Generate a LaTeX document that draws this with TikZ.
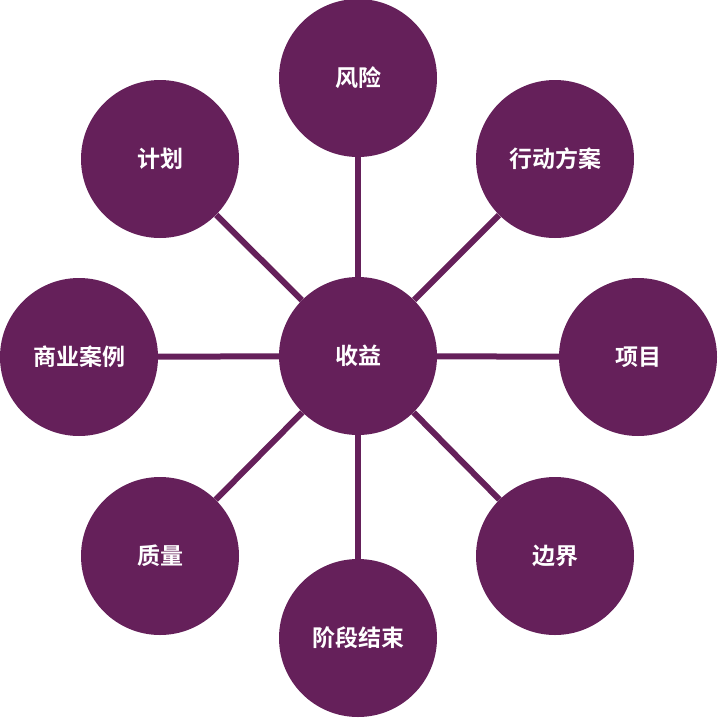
\documentclass[tikz,border=0pt]{standalone}
\usepackage{fontspec}
\newfontfamily\cjk{Noto Sans CJK SC}[BoldFont={* Bold}]
\definecolor{plum}{RGB}{101,32,90}
\begin{document}
\begin{tikzpicture}[x=1pt,y=-1pt,
  bubble/.style={circle,fill=plum,minimum size=158pt,inner sep=0pt,text=white,font=\cjk\bfseries\fontsize{23}{26}\selectfont},
  spoke/.style={draw=plum,line width=6pt}]
\useasboundingbox (0,0) rectangle (718,718);
\node[bubble] (ctr) at (358,356) {收益};
\node[bubble] (r) at (358,78) {风险};
\node[bubble] (x) at (555,159) {行动方案};
\node[bubble] (p) at (638,357) {项目};
\node[bubble] (b) at (555,556) {边界};
\node[bubble] (j) at (358,638) {阶段结束};
\node[bubble] (q) at (160,556) {质量};
\node[bubble] (s) at (79,357) {商业案例};
\node[bubble] (h) at (160,159) {计划};
\foreach \n in {r,x,p,b,j,q,s,h}{
  \draw[spoke] (ctr) -- (\n);
}
\end{tikzpicture}
\end{document}
